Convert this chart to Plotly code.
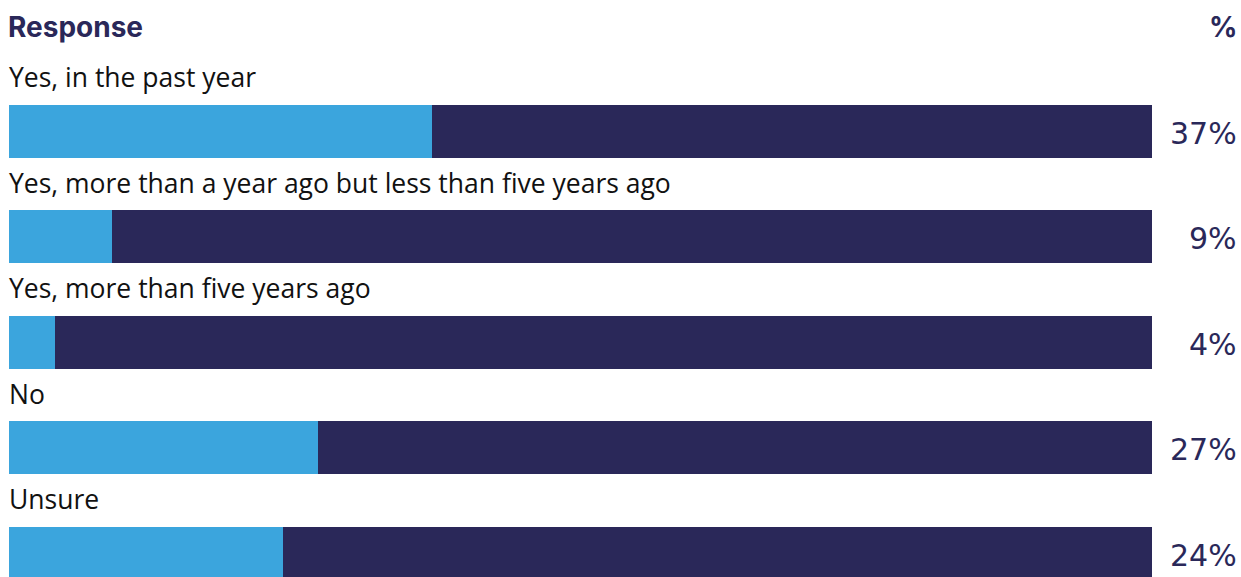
import plotly.graph_objects as go

categories = [
    "Yes, in the past year",
    "Yes, more than a year ago but less than five years ago",
    "Yes, more than five years ago",
    "No",
    "Unsure",
]
shares = [37, 9, 4, 27, 24]
remainder = [100 - v for v in shares]
value_labels = [f"{v}%" for v in shares]

LIGHT = "#3BA5DD"
NAVY = "#2A2859"

fig = go.Figure()
fig.add_trace(go.Bar(
    y=categories, x=shares, orientation="h", marker_color=LIGHT,
    marker_line_width=0, width=0.5, hoverinfo="skip",
))
fig.add_trace(go.Bar(
    y=categories, x=remainder, orientation="h", marker_color=NAVY,
    marker_line_width=0, width=0.5, hoverinfo="skip",
))

annotations = []
for cat, lab in zip(categories, value_labels):
    # category caption above each bar
    annotations.append(dict(
        x=0, y=cat, xref="x", yref="y", text=cat, showarrow=False,
        xanchor="left", yanchor="middle", yshift=54, xshift=-2,
        font=dict(family="Open Sans", size=26.5, color="#111111"),
    ))
    # percentage to the right of each bar
    annotations.append(dict(
        x=1, y=cat, xref="paper", yref="y", text=lab, showarrow=False,
        xanchor="right", yanchor="middle", xshift=87, yshift=-2,
        font=dict(family="DejaVu Sans", size=30, color=NAVY),
    ))

annotations.append(dict(
    x=0, y=1, xref="paper", yref="paper", text="<b>Response</b>",
    showarrow=False, xanchor="left", yanchor="middle", yshift=-27, xshift=-3,
    font=dict(family="Inter", size=28, color=NAVY),
))
annotations.append(dict(
    x=1, y=1, xref="paper", yref="paper", text="<b>%</b>",
    showarrow=False, xanchor="right", yanchor="middle", yshift=-27, xshift=87,
    font=dict(family="Inter", size=28, color=NAVY),
))

fig.update_layout(
    width=1241, height=577,
    margin=dict(l=9, r=89, t=0, b=0),
    barmode="stack", bargap=0,
    showlegend=False,
    plot_bgcolor="white", paper_bgcolor="white",
    xaxis=dict(range=[0, 100], visible=False, fixedrange=True),
    yaxis=dict(
        categoryorder="array", categoryarray=categories,
        range=[4.225, -1.2446], visible=False, fixedrange=True,
    ),
    annotations=annotations,
)

fig.write_html("out.html", config={"displayModeBar": False})
